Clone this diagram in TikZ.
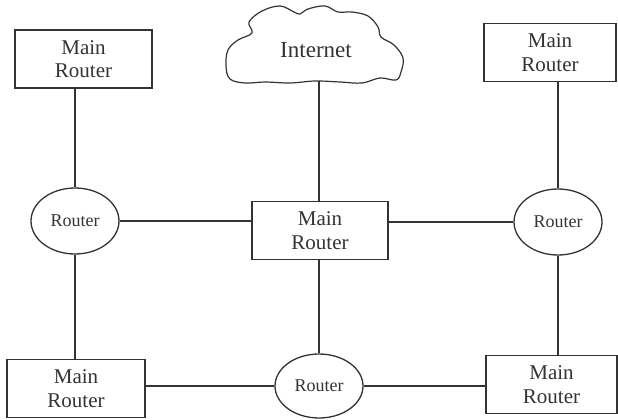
\documentclass[tikz,border=0pt]{standalone}
\usepackage{fontspec}
\setmainfont{Liberation Serif}
\usetikzlibrary{shapes.geometric,calc}
\definecolor{ink}{HTML}{333333}
\tikzset{
  mainbox/.style={draw=ink, line width=1.3pt, rectangle, minimum width=#1, minimum height=58pt,
    align=center, text=ink, font=\fontsize{21}{23.5}\selectfont, inner sep=0pt},
  mainbox/.default=136pt,
  router/.style={draw=ink, line width=1.3pt, ellipse, minimum width=88pt, minimum height=66pt,
    text=ink, font=\fontsize{18}{21}\selectfont, inner sep=0pt},
  link/.style={draw=ink, line width=1.3pt},
}
\begin{document}
\begin{tikzpicture}[x=1pt, y=-1pt]
\useasboundingbox (0,0) rectangle (618,420);

% Internet cloud
\node[text=ink, font=\fontsize{23}{27}\selectfont] (inet) at (316,50) {Internet};
\draw[ink, line width=1.2pt] plot[smooth cycle, tension=0.6] coordinates {
  (226,66) (228,50) (238,40) (252,33) (249,22) (262,11) (280,6) (294,12)
  (300,14) (308,9) (325,6) (338,12) (352,12) (368,16) (378,27) (381,37)
  (394,45) (403,58) (401,72) (396,80) (380,78) (362,83) (340,82) (315,81)
  (290,83) (265,82) (245,83) (230,79)};
\coordinate (inetb) at (319,81);

% Routers and main routers
\node[mainbox=137pt] (tl) at (83.5,59) {Main\\Router};
\node[mainbox=132pt] (tr) at (550,52.5) {Main\\Router};
\node[mainbox=136pt] (c)  at (320,230.5) {Main\\Router};
\node[mainbox=138pt] (bl) at (76,388.5) {Main\\Router};
\node[mainbox=131pt] (br) at (551.5,384.5) {Main\\Router};

\node[router] (le) at (75,221) {Router};
\node[router] (re) at (558,222) {Router};
\node[router, minimum height=64pt] (be) at (319,386) {Router};

% Links
\draw[link] (inetb) -- (inetb |- c.north);
\draw[link] (le.north) -- (le.north |- tl.south);
\draw[link] (le.south) -- (le.south |- bl.north);
\draw[link] (le.east) -- (le.east -| c.west);
\draw[link] (re.west) -- (re.west -| c.east);
\draw[link] (re.north) -- (re.north |- tr.south);
\draw[link] (re.south) -- (re.south |- br.north);
\draw[link] (c.south -| be.north) -- (be.north);
\draw[link] (be.west) -- (be.west -| bl.east);
\draw[link] (be.east) -- (be.east -| br.west);
\end{tikzpicture}
\end{document}
